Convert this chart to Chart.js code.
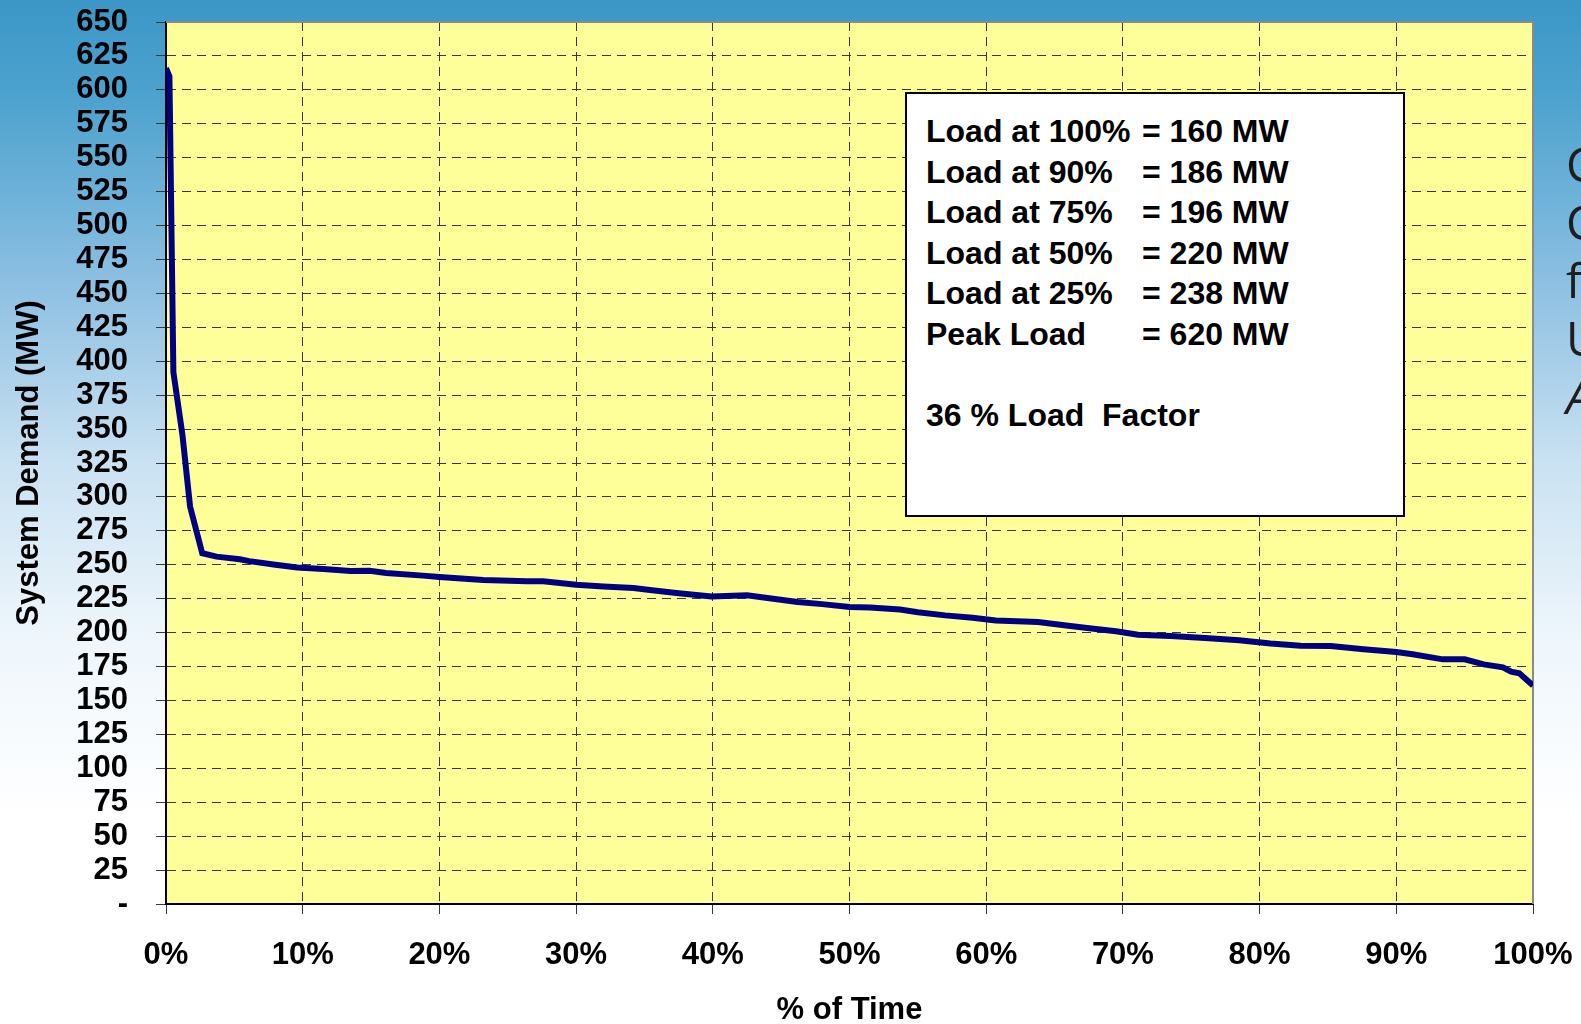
<!DOCTYPE html>
<html>
<head>
<meta charset="utf-8">
<title>Load Duration Curve</title>
<script src="https://cdn.jsdelivr.net/npm/chart.js@4.4.0/dist/chart.umd.min.js"></script>
<style>
    html, body { margin: 0; padding: 0; }
    body {
        width: 1581px;
        height: 1024px;
        overflow: hidden;
        position: relative;
        font-family: "Liberation Sans", Arial, sans-serif;
        background: linear-gradient(to bottom, #3b97c7 0%, #4ea3cf 10%, #8ec0e2 28%, #c9e1f2 45%, #eef6fc 62%, #ffffff 80%);
    }
    #chart { position: absolute; left: 0; top: 0; }
    #note {
        position: absolute;
        left: 905px;
        top: 92px;
        width: 496px;
        height: 404px;
        background: #fff;
        border: 2px solid #000;
        padding-top: 17px;
        font-size: 32px;
        font-weight: bold;
        line-height: 40.5px;
        color: #000;
    }
    #note .row { padding-left: 19px; height: 40.5px; white-space: pre; }
    #note .lbl { display: inline-block; width: 216px; }
    #side {
        position: absolute;
        left: 1566px;
        top: 135px;
        font-family: "Open Sans", sans-serif;
        font-size: 47px;
        line-height: 58px;
        color: #1e1e1e;
    }
</style>
</head>
<body>
<canvas id="chart" width="1581" height="1024"></canvas>

<div id="note">
    <div class="row"><span class="lbl">Load at 100%</span>= 160 MW</div>
    <div class="row"><span class="lbl">Load at 90%</span>= 186 MW</div>
    <div class="row"><span class="lbl">Load at 75%</span>= 196 MW</div>
    <div class="row"><span class="lbl">Load at 50%</span>= 220 MW</div>
    <div class="row"><span class="lbl">Load at 25%</span>= 238 MW</div>
    <div class="row"><span class="lbl">Peak Load</span>= 620 MW</div>
    <div class="row"></div>
    <div class="row">36 % Load  Factor</div>
</div>

<div id="side">C<br>C<br>f<br>U<br><i>A</i></div>

<script>
// Load duration curve
const timePct = [0, 0.25, 0.54, 1.2, 1.76, 2.65, 3.7, 5.4, 6.1, 8, 9.6, 11.5, 13.5, 14.9, 16.1,
    18.8, 20, 23.2, 26.4, 27.6, 30, 32, 34.2, 35.4, 37.5, 39.9, 42.5, 44, 46.2, 48, 50, 51.5,
    53.7, 55, 57, 59, 60.7, 63.8, 66, 67.7, 69.5, 71.1, 73.5, 76, 78.5, 80.8, 83, 85.2, 87.6,
    90, 91.2, 93.4, 95, 96.4, 97.8, 98.4, 99, 100];
const demandMW = [616, 610, 392, 346, 293, 258.5, 256, 254, 252.7, 250, 248, 246.8, 245.4, 245.6, 243.9,
    242, 241, 238.8, 237.8, 237.8, 235.3, 234, 232.9, 231.4, 229, 226.7, 227.5, 225.5, 222.5, 221, 218.9, 218.5,
    217, 215, 212.7, 211, 209, 207.8, 205, 203, 201, 198.5, 197.5, 196, 194.4, 192, 190.4, 190.1, 187.7,
    185.7, 184, 180.3, 180.3, 176.6, 174.4, 171.2, 170, 161];

const Y_MAX = 650;
const Y_STEP = 25;
const X_STEP = 10;

const FONT = 'Liberation Sans, Arial, sans-serif';
const GRID_COLOR = '#383838';

const plotFrame = {
    id: 'plotFrame',
    beforeDraw(chart) {
        const { ctx, chartArea: a } = chart;
        ctx.save();
        ctx.fillStyle = '#ffff99';
        ctx.fillRect(a.left, a.top, a.right - a.left, a.bottom - a.top);
        ctx.restore();
    },
    beforeDatasetsDraw(chart) {
        const { ctx, chartArea: a } = chart;
        ctx.save();
        ctx.strokeStyle = '#8a8a8a';
        ctx.lineWidth = 2;
        ctx.beginPath();
        ctx.moveTo(a.left, a.top);
        ctx.lineTo(a.right, a.top);
        ctx.lineTo(a.right, a.bottom);
        ctx.stroke();
        ctx.restore();
    },
};

// fixed axis sizes, no extra label overflow padding
function fixX(s) {
    s.height = 120;
    s.paddingLeft = 0;
    s.paddingRight = 0;
}
function fixY(s) {
    s.width = 166;
    s.paddingTop = 0;
    s.paddingBottom = 0;
}

new Chart(document.getElementById('chart'), {
    type: 'line',
    data: {
        datasets: [{
            label: 'System Demand',
            data: timePct.map((t, i) => ({ x: t, y: demandMW[i] })),
            borderColor: '#000080',
            borderWidth: 6,
            pointRadius: 0,
            tension: 0,
            fill: false,
        }],
    },
    options: {
        responsive: false,
        animation: false,
        layout: { padding: { top: 22, right: 48, left: 0, bottom: 0 } },
        plugins: {
            legend: { display: false },
            tooltip: { enabled: false },
        },
        scales: {
            x: {
                type: 'linear',
                min: 0,
                max: 100,
                afterFit: fixX,
                ticks: {
                    stepSize: X_STEP,
                    autoSkip: false,
                    maxRotation: 0,
                    padding: 26,
                    color: '#000',
                    font: { family: FONT, size: 31, weight: 'bold', lineHeight: 1 },
                    callback: v => v + '%',
                },
                grid: { color: GRID_COLOR, lineWidth: 1, tickLength: 10, tickColor: GRID_COLOR },
                border: { color: '#000', width: 2, dash: [9, 6] },
                title: {
                    display: true,
                    text: '% of Time',
                    color: '#000',
                    padding: { bottom: -2 },
                    font: { family: FONT, size: 31, weight: 'bold', lineHeight: 1 },
                },
            },
            y: {
                min: 0,
                max: Y_MAX,
                afterFit: fixY,
                ticks: {
                    stepSize: Y_STEP,
                    maxTicksLimit: 100,
                    autoSkip: false,
                    padding: 28,
                    color: '#000',
                    font: { family: FONT, size: 31, weight: 'bold', lineHeight: 1 },
                    callback: v => (v === 0 ? '-' : v),
                },
                grid: { color: GRID_COLOR, lineWidth: 1, tickLength: 10, tickColor: GRID_COLOR },
                border: { color: '#000', width: 2, dash: [9, 6] },
                title: {
                    display: true,
                    text: 'System Demand (MW)',
                    color: '#000',
                    padding: { top: 14 },
                    font: { family: FONT, size: 31, weight: 'bold', lineHeight: 1 },
                },
            },
        },
    },
    plugins: [plotFrame],
});
</script>
</body>
</html>
